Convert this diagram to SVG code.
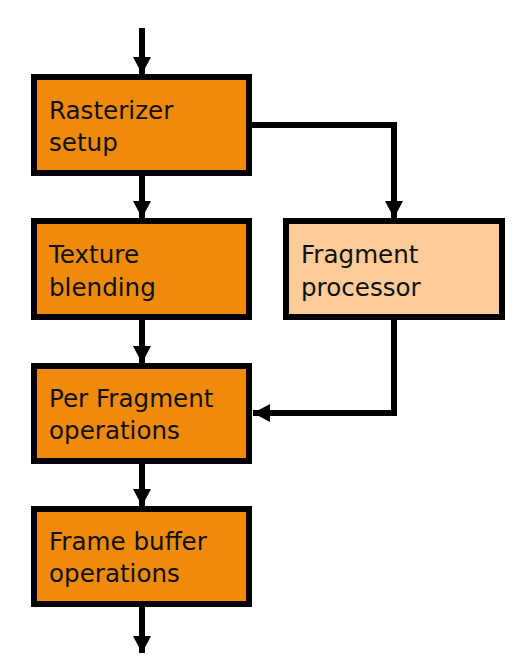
<svg xmlns="http://www.w3.org/2000/svg" width="532" height="668" viewBox="0 0 532 668">
<defs>
<style>
.box{fill:#EF8A0C;stroke:#000;stroke-width:6}
.light{fill:#FFCC99;stroke:#000;stroke-width:6}
.lbl{font-family:"DejaVu Sans",Verdana,sans-serif;font-size:24.6px;fill:#111}
.con{fill:none;stroke:#000;stroke-width:6;stroke-linejoin:miter;marker-end:url(#ah)}
</style>
<marker id="ah" markerUnits="userSpaceOnUse" markerWidth="18" markerHeight="18" viewBox="0 0 17 18" refX="17" refY="9" orient="auto">
<path d="M0 0 L17 9 L0 18 Z" fill="#000"/>
</marker>
</defs>
<rect width="532" height="668" fill="#fff"/>
<g id="connectors">
<path class="con" d="M142 28 L142 74"/>
<path class="con" d="M142 176 L142 218"/>
<path class="con" d="M142 320 L142 363"/>
<path class="con" d="M142 464 L142 506"/>
<path class="con" d="M142 607 L142 653"/>
<path class="con" d="M252 125 L394 125 L394 218"/>
<path class="con" d="M394 320 L394 413 L253 413"/>
</g>
<g id="rasterizer">
<rect class="box" x="34" y="77" width="215" height="96"/>
<text class="lbl" x="49" y="118.5">Rasterizer</text>
<text class="lbl" x="49" y="150.5">setup</text>
</g>
<g id="texture">
<rect class="box" x="34" y="221" width="215" height="96"/>
<text class="lbl" x="49" y="263">Texture</text>
<text class="lbl" x="49" y="295.5">blending</text>
</g>
<g id="fragment">
<rect class="light" x="286" y="221" width="216" height="96"/>
<text class="lbl" x="301" y="263">Fragment</text>
<text class="lbl" x="301" y="295.5">processor</text>
</g>
<g id="perfragment">
<rect class="box" x="34" y="366" width="215" height="95"/>
<text class="lbl" x="49" y="407">Per Fragment</text>
<text class="lbl" x="49" y="439">operations</text>
</g>
<g id="framebuffer">
<rect class="box" x="34" y="509" width="215" height="95"/>
<text class="lbl" x="49" y="550">Frame buffer</text>
<text class="lbl" x="49" y="582">operations</text>
</g>
</svg>
